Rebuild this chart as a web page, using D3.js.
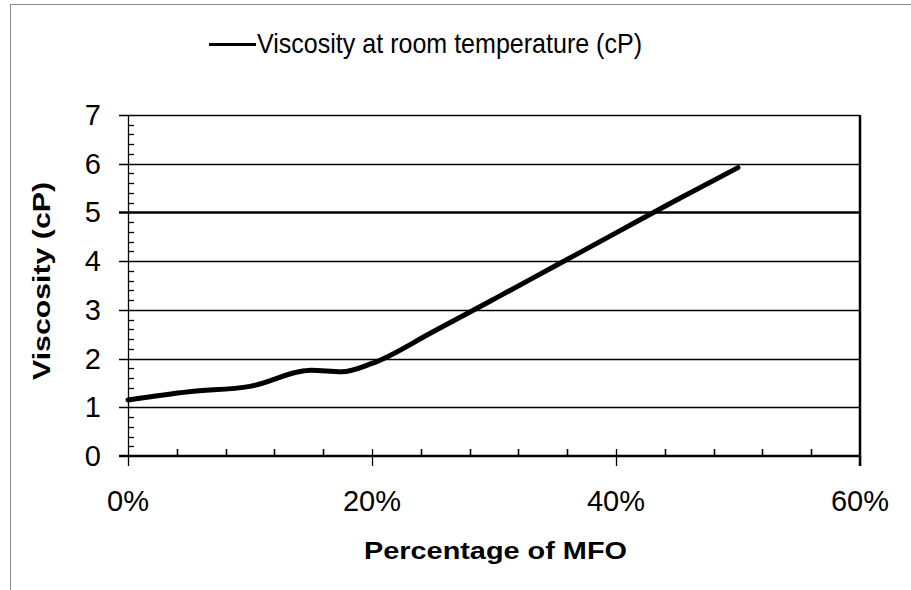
<!DOCTYPE html>
<meta charset="utf-8">
<script src="https://cdn.jsdelivr.net/npm/d3@7"></script>
<style>
body { margin: 0; background: #fff; }
text { font-family: "Liberation Sans", Arial, sans-serif; fill: #000; }
</style>
<body>
<script>

// data
var mfoPercent = [0, 5, 10, 15, 17.5, 20, 25, 30, 35, 40, 45, 50];
var viscosity  = [1.15, 1.32, 1.43, 1.76, 1.73, 1.90, 2.55, 3.22, 3.90, 4.58, 5.26, 5.92];
var xTicks = [0, 20, 40, 60];
var yTicks = [0, 1, 2, 3, 4, 5, 6, 7];
var seriesName = "Viscosity at room temperature (cP)";

var width = 911,
    height = 590;

var x = d3.scaleLinear().domain([0, 60]).range([128, 860]);
var y = d3.scaleLinear().domain([0, 7]).range([456, 115]);

var svg = d3.select("body").append("svg")
    .attr("width", width)
    .attr("height", height);

// outer frame (only left and top edges show)
svg.append("rect")
    .attr("x", 10.5).attr("y", 4.5)
    .attr("width", 1000).attr("height", 700)
    .attr("fill", "none")
    .attr("stroke", "#888");

// gridlines with outside ticks
svg.append("g")
  .selectAll("line")
  .data(yTicks.filter(function(d) { return d > 0; }))
  .enter().append("line")
    .attr("x1", 119).attr("x2", 860)
    .attr("y1", function(d) { return Math.round(y(d)) + 0.5; })
    .attr("y2", function(d) { return Math.round(y(d)) + 0.5; })
    .attr("stroke", "#000")
    .attr("stroke-width", function(d) { return d == 5 ? 2.5 : 1.3; });

// y minor ticks (inside)
var yMinor = d3.range(0, 35).map(function(i) { return i * 0.2; })
    .filter(function(d) { return Math.abs(d - Math.round(d)) > 0.01; });
svg.append("g")
  .selectAll("line")
  .data(yMinor)
  .enter().append("line")
    .attr("x1", 128).attr("x2", 134)
    .attr("y1", function(d) { return Math.round(y(d)) + 0.5; })
    .attr("y2", function(d) { return Math.round(y(d)) + 0.5; })
    .attr("stroke", "#000")
    .attr("stroke-width", 1.3);

// y axis line
svg.append("line")
    .attr("x1", 128.5).attr("x2", 128.5)
    .attr("y1", y(7)).attr("y2", y(0))
    .attr("stroke", "#000").attr("stroke-width", 1.3);

// right border of plot
svg.append("line")
    .attr("x1", 860).attr("x2", 860)
    .attr("y1", y(7)).attr("y2", y(0) + 10)
    .attr("stroke", "#000").attr("stroke-width", 2.5);

// x minor ticks every 4%
var xMinor = d3.range(4, 60, 4).filter(function(d) { return d % 20 != 0; });
svg.append("g")
  .selectAll("line")
  .data(xMinor)
  .enter().append("line")
    .attr("x1", function(d) { return Math.round(x(d)) + 0.5; })
    .attr("x2", function(d) { return Math.round(x(d)) + 0.5; })
    .attr("y1", y(0) - 7).attr("y2", y(0))
    .attr("stroke", "#000").attr("stroke-width", 1.6);

// x major ticks cross the axis
svg.append("g")
  .selectAll("line")
  .data(xTicks)
  .enter().append("line")
    .attr("x1", function(d) { return Math.round(x(d)) + 0.5; })
    .attr("x2", function(d) { return Math.round(x(d)) + 0.5; })
    .attr("y1", function(d) { return d == 0 || d == 60 ? y(0) : y(0) - 7; })
    .attr("y2", y(0) + 10)
    .attr("stroke", "#000").attr("stroke-width", 1.3);

// x axis line
svg.append("line")
    .attr("x1", 119).attr("x2", 861)
    .attr("y1", y(0)).attr("y2", y(0))
    .attr("stroke", "#000").attr("stroke-width", 2.5);

// tick labels
svg.append("g")
  .selectAll("text")
  .data(yTicks)
  .enter().append("text")
    .attr("x", 101)
    .attr("y", function(d) { return y(d) + 10; })
    .attr("text-anchor", "end")
    .style("font-size", "29px")
    .text(function(d) { return d; });

svg.append("g")
  .selectAll("text")
  .data(xTicks)
  .enter().append("text")
    .attr("x", function(d) { return x(d); })
    .attr("y", 511)
    .attr("text-anchor", "middle")
    .style("font-size", "30px")
    .attr("textLength", function(d) { return d == 0 ? 42 : 58; })
    .attr("lengthAdjust", "spacingAndGlyphs")
    .text(function(d) { return d + "%"; });

// axis titles
svg.append("text")
    .attr("x", 495.5)
    .attr("y", 559)
    .attr("text-anchor", "middle")
    .style("font-size", "24px")
    .style("font-weight", "bold")
    .attr("textLength", 263)
    .attr("lengthAdjust", "spacingAndGlyphs")
    .text("Percentage of MFO");

svg.append("text")
    .attr("transform", "translate(50,281) rotate(-90)")
    .attr("text-anchor", "middle")
    .style("font-size", "24px")
    .style("font-weight", "bold")
    .attr("textLength", 198)
    .attr("lengthAdjust", "spacingAndGlyphs")
    .text("Viscosity (cP)");

// the series
var data = mfoPercent.map(function(p, i) { return {p: p, v: viscosity[i]}; });
var line = d3.line()
    .x(function(d) { return x(d.p); })
    .y(function(d) { return y(d.v); })
    .curve(d3.curveMonotoneX);

svg.append("path")
    .datum(data)
    .attr("d", line)
    .attr("fill", "none")
    .attr("stroke", "#000")
    .attr("stroke-width", 5)
    .attr("stroke-linecap", "round");

// legend
svg.append("line")
    .attr("x1", 209).attr("x2", 256)
    .attr("y1", 44.5).attr("y2", 44.5)
    .attr("stroke", "#000").attr("stroke-width", 3);

svg.append("text")
    .attr("x", 257)
    .attr("y", 53)
    .style("font-size", "28px")
    .attr("textLength", 385)
    .attr("lengthAdjust", "spacingAndGlyphs")
    .text(seriesName);

</script>
</body>
